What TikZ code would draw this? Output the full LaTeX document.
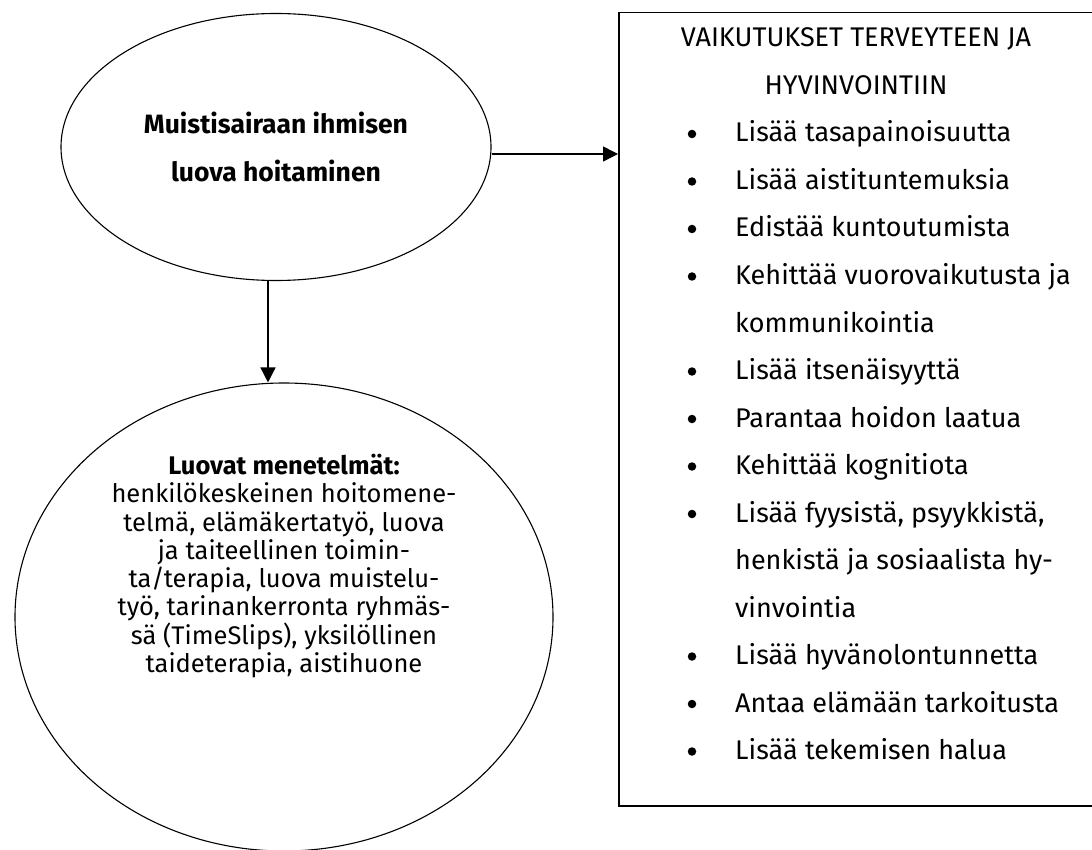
\documentclass[tikz,border=0pt]{standalone}
\usepackage{fontspec}
\setmainfont{Fira Sans}
\usetikzlibrary{shapes.geometric,arrows.meta}
\begin{document}
\begin{tikzpicture}[x=1pt,y=-1pt,
  oval/.style={ellipse, draw, line width=1.1pt, inner sep=0pt},
  arr/.style={line width=1.4pt, -{Triangle[length=15pt,width=15pt]}},
  boxtxt/.style={font=\fontsize{27}{30}\selectfont, inner sep=0pt, anchor=base west},
  titletxt/.style={font=\fontsize{27}{30}\selectfont, inner sep=0pt, anchor=base},
  bul/.style={circle, fill=black, inner sep=0pt, minimum size=8.5pt}
  ]
\useasboundingbox (0,0) rectangle (1092,850);
\node[oval, minimum width=430pt, minimum height=267pt, align=center,
      font=\fontsize{26.5}{47.5}\selectfont\bfseries] (top) at (276,147)
      {Muistisairaan ihmisen\\luova hoitaminen};
\node[oval, minimum width=538pt, minimum height=468pt] (bot) at (284,617) {};
\node[align=center, font=\fontsize{25.5}{28.3}\selectfont, inner sep=0pt] (bottxt) at (284,566)
  {\textbf{Luovat menetelmät:}\\
   henkilökeskeinen hoitomene-\\
   telmä, elämäkertatyö, luova\\
   ja taiteellinen toimin-\\
   ta/terapia, luova muistelu-\\
   työ, tarinankerronta ryhmäs-\\
   sä (TimeSlips), yksilöllinen\\
   taideterapia, aistihuone};
\node[draw, line width=1.5pt, minimum width=478pt, minimum height=793pt,
      anchor=north west, inner sep=0pt] (box) at (618,12) {};
\node[titletxt] (t1) at (856,47) {VAIKUTUKSET TERVEYTEEN JA};
\node[titletxt] (t2) at (856,94.5) {HYVINVOINTIIN};
\foreach \yy/\txt [count=\i] in {
  142/{Lisää tasapainoisuutta},
  189.5/{Lisää aistituntemuksia},
  237/{Edistää kuntoutumista},
  284.5/{Kehittää vuorovaikutusta ja},
  332/{kommunikointia},
  379.5/{Lisää itsenäisyyttä},
  427/{Parantaa hoidon laatua},
  474.5/{Kehittää kognitiota},
  522/{Lisää fyysistä, psyykkistä,},
  569.5/{henkistä ja sosiaalista hy-},
  617/{vinvointia},
  664.5/{Lisää hyvänolontunnetta},
  712/{Antaa elämään tarkoitusta},
  759.5/{Lisää tekemisen halua}}
  \node[boxtxt] (line\i) at (735,\yy) {\txt};
\foreach \yy [count=\i] in {142,189.5,237,284.5,379.5,427,474.5,522,664.5,712,759.5}
  \node[bul] (b\i) at (692,\yy-8) {};
\draw[arr] ([yshift=-7pt]top.east) -- ([yshift=-7pt]top.east -| box.west);
\draw[arr] ([xshift=-8pt]top.south) -- ([xshift=-8pt]top.south |- bot.north);
\end{tikzpicture}
\end{document}
